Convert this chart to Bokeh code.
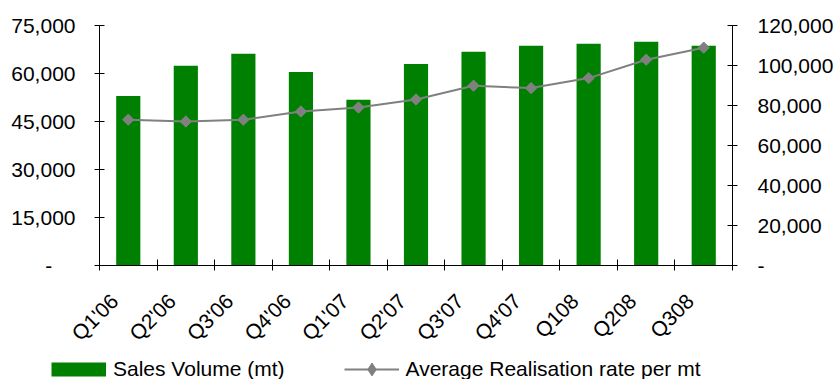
import math
from bokeh.plotting import figure
from bokeh.layouts import column
from bokeh.models import (Range1d, LinearAxis, FixedTicker, NumeralTickFormatter,
                          Legend, LegendItem)
from bokeh.embed import file_html
from bokeh.resources import INLINE

categories = ["Q1'06", "Q2'06", "Q3'06", "Q4'06", "Q1'07", "Q2'07",
              "Q3'07", "Q4'07", "Q108", "Q208", "Q308"]
sales_volume = [53000, 62400, 66200, 60500, 51800, 63000,
                66800, 68700, 69300, 69900, 68700]
avg_rate = [72900, 72000, 72900, 77000, 79000, 83000,
            89900, 88700, 93700, 102900, 108900]
left_ticks = [0, 15000, 30000, 45000, 60000, 75000]
right_ticks = [0, 20000, 40000, 60000, 80000, 100000, 120000]
series_names = ["Sales Volume (mt)", "Average Realisation rate per mt"]

GREEN = "#008000"
GREY = "#808080"
FONT = "Liberation Sans"

n = len(categories)
xs = [i + 0.5 for i in range(n)]
bounds = [float(i) for i in range(n + 1)]
LABEL_SHIFT = 0.24  # rotated labels end slightly left of the category centre
label_pos = [x - LABEL_SHIFT for x in xs]

p = figure(width=836, height=355, output_backend="svg", toolbar_location=None,
           x_range=Range1d(0, n), y_range=Range1d(0, left_ticks[-1]),
           min_border_left=99, min_border_right=104, min_border_top=25,
           min_border_bottom=90)
p.frame_align = False
p.extra_y_ranges = {"rate": Range1d(0, right_ticks[-1])}
p.outline_line_color = None
p.xgrid.visible = False
p.ygrid.visible = False

# x axis: tick marks at category boundaries, labels near centres
xa = p.xaxis[0]
xa.ticker = FixedTicker(ticks=label_pos, minor_ticks=bounds)
xa.major_label_overrides = {x: c for x, c in zip(label_pos, categories)}
xa.major_tick_in = 0
xa.major_tick_out = 0
xa.minor_tick_in = 6
xa.minor_tick_out = 5
xa.minor_tick_line_color = "black"
xa.axis_line_color = "black"
xa.major_label_orientation = math.pi / 4
xa.major_label_standoff = 27
xa.major_label_text_font = FONT
xa.major_label_text_font_size = "21px"
xa.major_label_text_color = "black"

ya = p.yaxis[0]
ya.ticker = FixedTicker(ticks=left_ticks)
ya.formatter = NumeralTickFormatter(format="0,0")
ya.major_label_overrides = {0: "-\u00a0\u00a0\u00a0\u00a0"}
ya.major_tick_in = 5
ya.major_tick_out = 5
ya.axis_line_color = "black"
ya.major_label_standoff = 19
ya.major_label_text_font = FONT
ya.major_label_text_font_size = "21px"
ya.major_label_text_color = "black"

ra = LinearAxis(y_range_name="rate", ticker=FixedTicker(ticks=right_ticks),
                formatter=NumeralTickFormatter(format="0,0"))
ra.major_label_overrides = {0: "-"}
ra.major_tick_in = 5
ra.major_tick_out = 5
ra.axis_line_color = "black"
ra.major_label_standoff = 20
ra.major_label_text_font = FONT
ra.major_label_text_font_size = "21px"
ra.major_label_text_color = "black"
p.add_layout(ra, "right")

p.vbar(x=xs, top=sales_volume, width=0.42, fill_color=GREEN, line_color=None)
p.line(xs, avg_rate, y_range_name="rate", line_color=GREY, line_width=2)
p.scatter(xs, avg_rate, y_range_name="rate", marker="square", angle=math.pi / 4,
          size=8, fill_color=GREY, line_color=GREY, line_width=1)

# legend strip below the chart (proxy renderers hold no visible points)
NAN = float("nan")
p2 = figure(width=836, height=24, output_backend="svg", toolbar_location=None,
            x_range=Range1d(0, 1), y_range=Range1d(0, 1),
            x_axis_type=None, y_axis_type=None, min_border=0)
p2.frame_align = False
p2.outline_line_color = None
p2.xgrid.visible = False
p2.ygrid.visible = False
sw_bar = p2.line(x=[NAN], y=[NAN], line_color=GREEN, line_width=14)
sw_line = p2.line(x=[NAN], y=[NAN], line_color=GREY, line_width=2)
sw_mark = p2.scatter(x=[NAN], y=[NAN], marker="diamond", size=8,
                     fill_color=GREY, line_color=GREY, line_width=1)
legend = Legend(items=[LegendItem(label=series_names[0], renderers=[sw_bar]),
                       LegendItem(label=series_names[1], renderers=[sw_line, sw_mark])],
                orientation="horizontal", location=(51, -6),
                glyph_width=55, glyph_height=32, label_standoff=7, spacing=59,
                padding=0, margin=0, border_line_color=None, background_fill_alpha=0,
                label_text_font=FONT, label_text_font_size="21px",
                label_text_color="black", label_height=24)
p2.add_layout(legend, "center")

layout = column(p, p2, spacing=0)
open("out.html", "w").write(file_html(layout, INLINE))
